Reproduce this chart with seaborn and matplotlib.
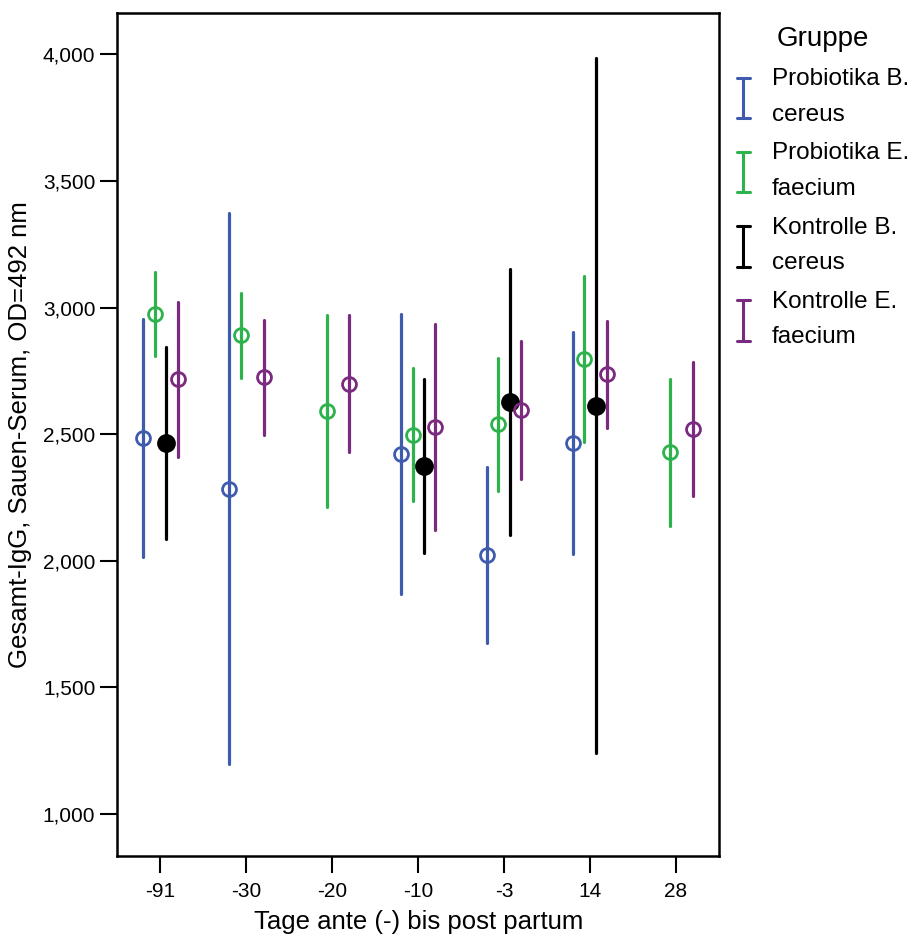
import numpy as np
import pandas as pd
import matplotlib
matplotlib.use("Agg")
import matplotlib.pyplot as plt
import seaborn as sns
from matplotlib.legend_handler import HandlerBase
from matplotlib.lines import Line2D
from matplotlib.ticker import FuncFormatter

days = ["-91", "-30", "-20", "-10", "-3", "14", "28"]
groups = ["Probiotika B. cereus", "Probiotika E. faecium",
          "Kontrolle B. cereus", "Kontrolle E. faecium"]
legend_labels = ["Probiotika B.\ncereus", "Probiotika E.\nfaecium",
                 "Kontrolle B.\ncereus", "Kontrolle E.\nfaecium"]
colors = ["#3F5BAD", "#2EB24B", "#000000", "#7A2A7F"]

# mean and error bar limits per day (None = no measurement)
pb_cereus_mean = [2484, 2285, None, 2423, 2024, 2466, None]
pb_cereus_low = [2014, 1196, None, 1870, 1677, 2027, None]
pb_cereus_high = [2955, 3373, None, 2973, 2369, 2903, None]

pb_faecium_mean = [2975, 2892, 2590, 2498, 2539, 2797, 2430]
pb_faecium_low = [2809, 2722, 2211, 2235, 2277, 2470, 2139]
pb_faecium_high = [3139, 3059, 2969, 2761, 2802, 3125, 2719]

ko_cereus_mean = [2464, None, None, 2374, 2626, 2612, None]
ko_cereus_low = [2086, None, None, 2029, 2100, 1240, None]
ko_cereus_high = [2845, None, None, 2719, 3151, 3984, None]

ko_faecium_mean = [2717, 2725, 2699, 2527, 2595, 2738, 2519]
ko_faecium_low = [2410, 2498, 2428, 2122, 2324, 2526, 2255]
ko_faecium_high = [3021, 2950, 2969, 2935, 2869, 2948, 2784]

series = {
    groups[0]: (pb_cereus_mean, pb_cereus_low, pb_cereus_high),
    groups[1]: (pb_faecium_mean, pb_faecium_low, pb_faecium_high),
    groups[2]: (ko_cereus_mean, ko_cereus_low, ko_cereus_high),
    groups[3]: (ko_faecium_mean, ko_faecium_low, ko_faecium_high),
}

# three rows per point: low, mean, high -> median gives the mean, min/max the bar
rows = []
for g, (m, lo, hi) in series.items():
    for d, a, b, c in zip(days, m, lo, hi):
        if a is None:
            continue
        for v in (b, a, c):
            rows.append({"Tag": d, "Wert": v, "Gruppe": g})
df = pd.DataFrame(rows)


class IBeamHandler(HandlerBase):
    def create_artists(self, legend, orig, xd, yd, width, height, fontsize, trans):
        c = orig.get_color()
        cx = -xd + width / 2
        y0, y1 = -yd, -yd + height
        w = width * 0.5
        lines = [Line2D([cx, cx], [y0, y1], color=c, lw=2.2),
                 Line2D([cx - w, cx + w], [y0, y0], color=c, lw=2.2),
                 Line2D([cx - w, cx + w], [y1, y1], color=c, lw=2.2)]
        for l in lines:
            l.set_transform(trans)
        return lines


sns.set_theme(style="white")
plt.rcParams["font.family"] = ["Liberation Sans", "DejaVu Sans"]
plt.rcParams["text.color"] = "black"
plt.rcParams["axes.labelcolor"] = "black"

fig = plt.figure(figsize=(9.2, 9.42), dpi=100)
ax = fig.add_axes([0.1277, 0.0913, 0.6538, 0.8954])

sns.pointplot(data=df, x="Tag", y="Wert", hue="Gruppe", order=days,
              hue_order=groups, palette=colors, estimator="median",
              errorbar=lambda v: (v.min(), v.max()), dodge=0.4,
              linestyle="none", markers="o", markersize=10,
              err_kws={"linewidth": 2.3, "solid_capstyle": "round"},
              legend=False, ax=ax)

for line in ax.lines:
    if line.get_marker() == "o":
        line.set_markeredgewidth(2)
        line.set_zorder(5)
        if matplotlib.colors.to_hex(line.get_color()) == "#000000":
            line.set_markerfacecolor("black")
            line.set_markersize(11.5)
        else:
            line.set_markerfacecolor("none")

ax.set_xlim(-0.5, 6.5)
ax.set_ylim(834, 4165)
ax.set_yticks(np.arange(1000, 4001, 500))
ax.yaxis.set_major_formatter(FuncFormatter(lambda v, _: f"{v:,.0f}"))

for s in ax.spines.values():
    s.set_visible(True)
    s.set_color("black")
    s.set_linewidth(1.8)

ax.tick_params(axis="both", which="major", direction="out", length=12,
               width=1.5, color="black", labelsize=15, labelcolor="black")
ax.tick_params(axis="x", pad=7, bottom=True)
ax.tick_params(axis="y", pad=4, left=True)

ax.set_xlabel("Tage ante (-) bis post partum", fontsize=18.5, labelpad=6)
ax.set_ylabel("Gesamt-IgG, Sauen-Serum, OD=492 nm", fontsize=18.5, labelpad=8)

handles = [Line2D([], [], color=c) for c in colors]
leg = fig.legend(handles, legend_labels, title="Gruppe",
                 handler_map={Line2D: IBeamHandler()},
                 loc="upper left", bbox_to_anchor=(0.79, 0.983),
                 frameon=False, fontsize=17.5, title_fontsize=20,
                 handlelength=0.55, handleheight=2.2, handletextpad=0.9,
                 labelspacing=0.68, borderaxespad=0)
for t in leg.get_texts():
    t.set_linespacing(1.8)
    t.set_color("black")
leg.get_title().set_color("black")

fig.savefig("out.png", dpi=100)
